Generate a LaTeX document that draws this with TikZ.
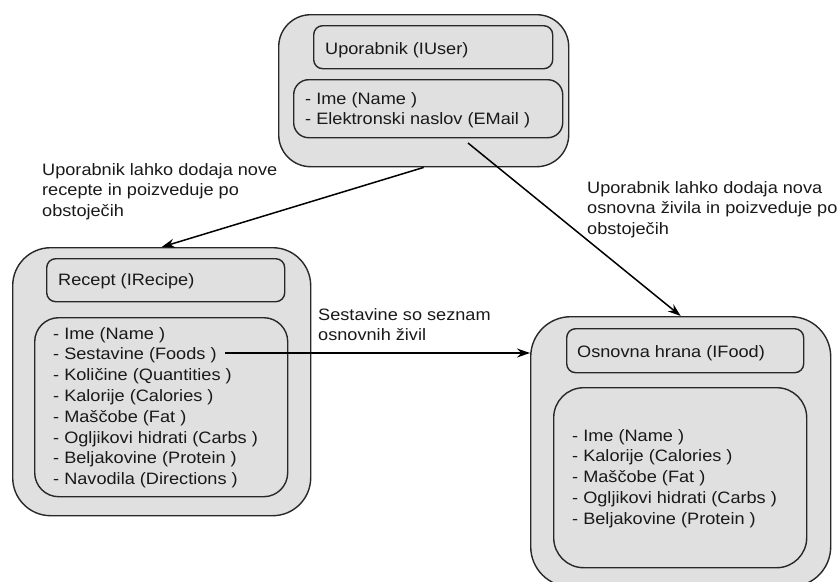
\documentclass[tikz,border=0pt]{standalone}
\usepackage{fontspec}
\setmainfont[FakeStretch=1.1]{Liberation Sans}
\usetikzlibrary{arrows.meta,calc}

\definecolor{boxfill}{RGB}{224,224,224}
\definecolor{boxline}{RGB}{40,40,40}

\tikzset{
  panel/.style={draw=boxline, fill=boxfill, line width=1.4pt, rounded corners=#1,
                rectangle, inner sep=0pt, anchor=north west},
  label/.style={anchor=north west, inner sep=0pt, align=left,
                font=\fontsize{16.5}{20.8}\selectfont, text=black!90},
  link/.style={draw=black, line width=1.5pt, -{Stealth[length=13pt,width=9pt]}},
}

\newcommand{\panelbox}[6]{% name, x1, y1, x2, y2, radius
  \node[panel=#6, minimum width=#4pt-#2pt, minimum height=#5pt-#3pt] (#1) at (#2,#3) {};}

\begin{document}
\begin{tikzpicture}[x=1pt, y=-1pt]
\useasboundingbox (0,0) rectangle (840,581);

% User entity
\panelbox{user}{278}{14}{568}{166}{32}
\panelbox{usertitle}{313}{25}{552}{68}{9}
\panelbox{userattr}{293}{79}{562}{137}{15}
\node[label] (usertitletext) at (325,42) {Uporabnik (IUser)};
\node[label] (userattrtext) at (305,92) {- Ime (Name )\\- Elektronski naslov (EMail )};

% Recipe entity
\panelbox{recipe}{12}{247}{310}{515}{38}
\panelbox{recipetitle}{46}{258}{284}{301}{9}
\panelbox{recipeattr}{34}{317}{287}{496}{24}
\node[label] (recipetitletext) at (58,273) {Recept (IRecipe)};
\node[label] (recipeattrtext) at (53,327) {- Ime (Name )\\- Sestavine (Foods )\\- Količine (Quantities )\\- Kalorije (Calories )\\- Maščobe (Fat )\\- Ogljikovi hidrati (Carbs )\\- Beljakovine (Protein )\\- Navodila (Directions )};

% Food entity
\panelbox{food}{530}{316}{830}{586}{40}
\panelbox{foodtitle}{566}{328}{803}{372}{9}
\panelbox{foodattr}{553}{387}{806}{567}{30}
\node[label] (foodtitletext) at (577,345) {Osnovna hrana (IFood)};
\node[label] (foodattrtext) at (572,429) {- Ime (Name )\\- Kalorije (Calories )\\- Maščobe (Fat )\\- Ogljikovi hidrati (Carbs )\\- Beljakovine (Protein )};

% Relationship captions
\node[label] (capRecipe) at (42,163) {Uporabnik lahko dodaja nove\\recepte in poizveduje po\\obstoječih};
\node[label] (capFood) at (587,181) {Uporabnik lahko dodaja nova\\osnovna živila in poizveduje po\\obstoječih};
\node[label] (capIngr) at (318,308) {Sestavine so seznam\\osnovnih živil};

% Connectors
\coordinate (userfoodstart) at (468,143);
\coordinate (foodsend) at (225,353);
\draw[link] (user.south) -- (recipe.north);
\draw[link] (userfoodstart) -- (food.north);
\draw[link] (foodsend) -- (foodsend -| food.west);
\end{tikzpicture}
\end{document}
